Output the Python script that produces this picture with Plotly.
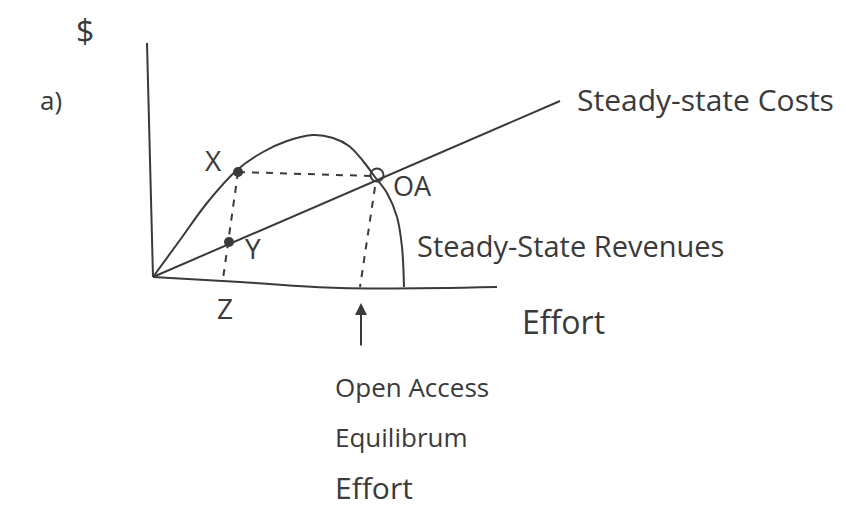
import plotly.graph_objects as go

# sketch: effort (horizontal) and $ (vertical), origin at the axes corner
rev_effort = [0, 27, 54, 84, 110, 134, 160, 180, 196, 210, 222, 234, 244, 249, 251]
rev_dollars = [0, 37, 74, 107, 125, 136, 142, 139, 131, 116, 100, 84, 60, 30, -10]

cost_effort = [0, 407]
cost_dollars = [0, 176]

yaxis_effort = [-6, 0]
yaxis_dollars = [234, 0]
xaxis_effort = [0, 87, 187, 344]
xaxis_dollars = [0, -5, -11, -10]

pt_x = (85, 105)
pt_y = (76, 35)
pt_oa = (224, 102)
z_base = (70, -2)
oa_base = (207, -10)

ink = "#3a3a3a"
fnt = "Open Sans"

fig = go.Figure()

def line(xs, ys, dash="solid", w=2, shape="linear"):
    fig.add_trace(go.Scatter(x=xs, y=ys, mode="lines",
                             line=dict(color=ink, width=w, dash=dash, shape=shape),
                             hoverinfo="skip", showlegend=False))

line(yaxis_effort, yaxis_dollars)
line(xaxis_effort, xaxis_dollars, shape="spline")
line(rev_effort, rev_dollars, shape="spline")
line(cost_effort, cost_dollars)
line([pt_x[0], pt_oa[0] - 6], [pt_x[1], pt_oa[1] - 1], dash="7px,7px")
line([pt_x[0], z_base[0]], [pt_x[1], z_base[1]], dash="7px,7px")
line([pt_oa[0] - 2, oa_base[0]], [pt_oa[1] - 12, oa_base[1]], dash="7px,7px")

fig.add_trace(go.Scatter(x=[pt_x[0], pt_y[0]], y=[pt_x[1], pt_y[1]], mode="markers",
                         marker=dict(color=ink, size=10), showlegend=False))
fig.add_trace(go.Scatter(x=[pt_oa[0]], y=[pt_oa[1]], mode="markers",
                         marker=dict(color="rgba(0,0,0,0)", size=13,
                                     line=dict(color=ink, width=2)),
                         showlegend=False))

# arrow pointing to open access effort
fig.add_annotation(x=208, y=-26, ax=208, ay=-70, xref="x", yref="y",
                   axref="x", ayref="y", showarrow=True, arrowhead=2,
                   arrowsize=1.2, arrowwidth=2, arrowcolor=ink, text="")

labels = [
    ("$", -79, 247, 32),
    ("a)", -115, 177, 26),
    ("X", 50, 117, 28),
    ("Y", 90, 29, 28),
    ("OA", 238, 92, 27),
    ("Z", 62, -31, 28),
    ("Steady-State Revenues", 262, 32, 29),
    ("Steady-state Costs", 422, 178, 30),
    ("Effort", 367, -44, 32),
    ("Open Access", 180, -110, 26),
    ("Equilibrum", 180, -160, 26),
    ("Effort", 180, -210, 30),
]
for txt, lx, ly, sz in labels:
    fig.add_annotation(x=lx, y=ly, text=txt, showarrow=False, xanchor="left",
                       yanchor="middle", font=dict(family=fnt, size=sz, color=ink))

# the page body adds an 8px margin, so the ranges are shifted to compensate
fig.update_layout(
    width=846, height=513,
    margin=dict(l=0, r=0, t=0, b=0),
    paper_bgcolor="white", plot_bgcolor="white",
    xaxis=dict(range=[-145, 701], visible=False),
    yaxis=dict(range=[-244, 269], visible=False),
    showlegend=False,
)

fig.write_html("out.html")
